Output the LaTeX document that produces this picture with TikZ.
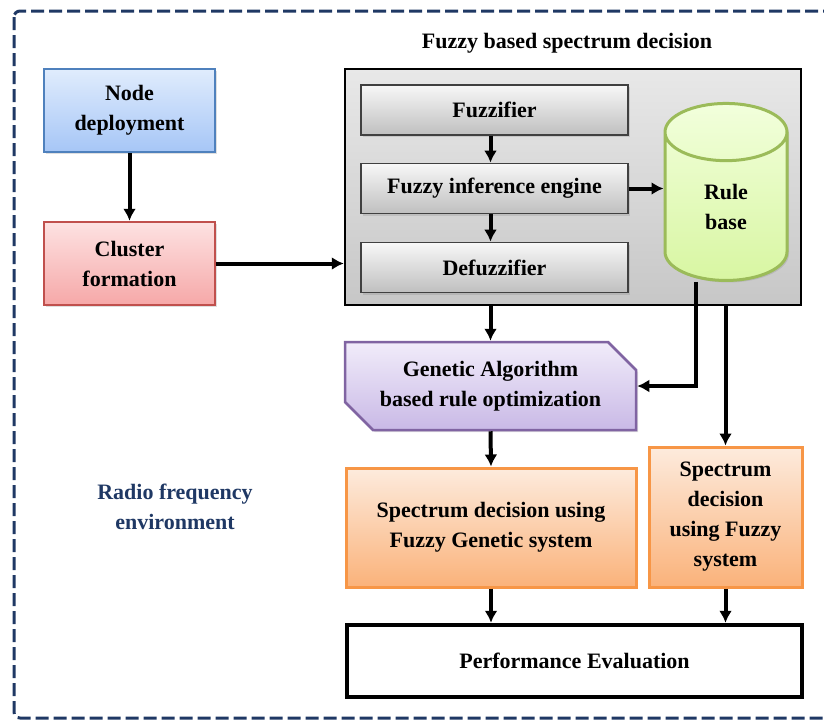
\documentclass[tikz,border=0pt]{standalone}
\usepackage{fontspec}
\setmainfont{Liberation Serif}
\usepackage{tikz}
\usetikzlibrary{shadows}
\usetikzlibrary{positioning}
\usetikzlibrary{arrows.meta,shapes}
\usetikzlibrary{calc}
\definecolor{navy}{HTML}{1F3864}
\definecolor{bluetop}{HTML}{E0ECFD}
\definecolor{bluebot}{HTML}{A6C6F6}
\definecolor{blueline}{HTML}{4F81BD}
\definecolor{redtop}{HTML}{FDE2E2}
\definecolor{redbot}{HTML}{F6A8A8}
\definecolor{redline}{HTML}{C0504D}
\definecolor{greentop}{HTML}{F2FFDC}
\definecolor{greenbot}{HTML}{D8F6A2}
\definecolor{greenline}{HTML}{9BBB59}
\definecolor{purpletop}{HTML}{F1ECFA}
\definecolor{purplebot}{HTML}{C9B9E6}
\definecolor{purpleline}{HTML}{8064A2}
\definecolor{orangetop}{HTML}{FDEBDD}
\definecolor{orangebot}{HTML}{FAB27A}
\definecolor{orangeline}{HTML}{F79646}
\tikzstyle{box}=[draw, line width=2.5pt, align=center, inner sep=0pt, font=\fontsize{22}{30}\selectfont\bfseries, drop shadow={shadow xshift=2pt,shadow yshift=-2pt,opacity=0.25}]
\tikzstyle{bluebox}=[box, draw=blueline, top color=bluetop, bottom color=bluebot, minimum width=171pt, minimum height=83pt]
\tikzstyle{redbox}=[box, draw=redline, top color=redtop, bottom color=redbot, minimum width=171pt, minimum height=83pt]
\tikzstyle{graybox}=[box, line width=1.8pt, draw=black!75, top color=black!3, bottom color=black!25, minimum width=267pt, minimum height=50pt]
\tikzstyle{container}=[draw, line width=2.5pt, top color=black!9, bottom color=black!22, minimum width=456pt, minimum height=236pt]
\tikzstyle{rulebase}=[box, cylinder, shape border rotate=90, aspect=1.3, draw=greenline, line width=3pt, top color=greentop, bottom color=greenbot, minimum width=122pt, minimum height=177pt]
\tikzstyle{gabox}=[box, chamfered rectangle, chamfered rectangle corners={north east,south west}, chamfered rectangle xsep=14pt, chamfered rectangle ysep=14pt, draw=purpleline, top color=purpletop, bottom color=purplebot, minimum width=291pt, minimum height=88pt]
\tikzstyle{orangebox}=[box, draw=orangeline, line width=3pt, top color=orangetop, bottom color=orangebot]
\tikzstyle{perfbox}=[box, draw=black, line width=4.5pt, fill=white, drop shadow={opacity=0}, minimum width=455pt, minimum height=72pt]
\tikzstyle{label}=[align=center, font=\fontsize{22}{30}\selectfont\bfseries]
\tikzstyle{edge} = [draw, line width=4pt, -{Latex[length=12pt,width=13pt]}]
\tikzstyle{undirectededge} = [draw, line width=4pt]

\begin{document}
\begin{tikzpicture}[x=1pt, y=-1pt]
    \clip (0,0) rectangle (824,721);
    % outer dashed frame
    \draw[navy, line width=3pt, dash pattern=on 13pt off 5pt, rounded corners=6pt] (14,11) rectangle (850,718);

    % left column
    \node[bluebox] (dep) at (129.5,110.5) {Node\\deployment};
    \node[redbox] (clu) at (129.5,263.5) {Cluster\\formation};
    \node[label, text=navy] (rfe) at (175,507) {Radio frequency\\environment};

    % fuzzy block with its three stages
    \node[label] (title) at (567,43) {Fuzzy based spectrum decision};
    \node[container] (fbsd) at (573,187) {};
    \foreach \pos/\name/\text in {{(494.5,110)/fuz/Fuzzifier}, {(494.5,188.5)/inf/Fuzzy inference engine}, {(494.5,267.5)/def/Defuzzifier}}
        \node[graybox] (\name) at \pos {\text};
    \node[rulebase] (rule) at (726,207) {Rule\\base};

    % optimisation and decisions
    \node[gabox] (ga) at (490.5,386) {Genetic Algorithm\\based rule optimization};
    \node[orangebox, minimum width=290pt, minimum height=119pt] (sdfg) at (491,527.5) {Spectrum decision using\\Fuzzy Genetic system};
    \node[orangebox, minimum width=153pt, minimum height=140pt] (sdf) at (725.5,517) {Spectrum\\decision\\using Fuzzy\\system};
    \node[perfbox] (perf) at (574.5,661) {Performance Evaluation};

    % connectors
    \coordinate (rb) at ([xshift=-30pt]rule.south);
    \foreach \source/\dest in {fuz.south/inf.north, inf.south/def.north}
        \path[edge] ([xshift=-4pt]\source) -- ([xshift=-4pt]\dest);
    \foreach \source/\dest in {dep.south/clu.north, ga.south/sdfg.north}
        \path[edge] (\source) -- (\dest);
    \path[edge] (inf.east) -- (inf.east -| rule.west);
    \path[edge] (clu.east) -- (clu.east -| fbsd.west);
    \path[edge] (ga.north |- fbsd.south) -- (ga.north);
    \path[edge] (sdf.north |- fbsd.south) -- (sdf.north);
    \path[edge] (rb) |- (ga.east);
    \path[edge] (sdfg.south) -- (sdfg.south |- perf.north);
    \path[edge] (sdf.south) -- (sdf.south |- perf.north);
\end{tikzpicture}
\end{document}
